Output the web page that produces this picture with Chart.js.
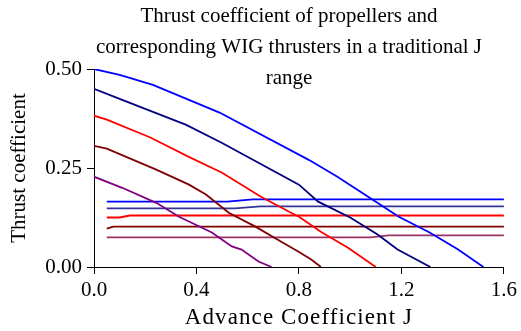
<!DOCTYPE html>
<html>
<head>
<meta charset="utf-8">
<script src="https://cdn.jsdelivr.net/npm/chart.js@4"></script>
<style>
  body { margin: 0; background: #fff; }
  #wrap { width: 521px; height: 331px; position: relative; }
</style>
</head>
<body>
<div id="wrap"><canvas id="thrustChart"></canvas></div>
<script>
// chart text
const titleLines = ['Thrust coefficient of propellers and', 'corresponding WIG thrusters in a traditional J', 'range'];
const xTitle = 'Advance Coefficient J';
const yTitle = 'Thrust coefficient';

// propeller curves (J, KT)
const prop1J = [0, 0.10, 0.23, 0.49, 0.84, 0.95, 1.10, 1.19, 1.31, 1.42, 1.52];
const prop1K = [0.500, 0.485, 0.460, 0.390, 0.270, 0.228, 0.165, 0.127, 0.087, 0.045, 0];
const prop2J = [0, 0.11, 0.36, 0.50, 0.80, 0.875, 1.00, 1.107, 1.185, 1.313];
const prop2K = [0.450, 0.422, 0.359, 0.313, 0.208, 0.165, 0.125, 0.082, 0.044, 0];
const prop3J = [0, 0.05, 0.22, 0.37, 0.50, 0.65, 0.76, 0.80, 0.89, 0.99, 1.10];
const prop3K = [0.382, 0.372, 0.327, 0.278, 0.238, 0.178, 0.140, 0.127, 0.087, 0.049, 0];
const prop4J = [0, 0.05, 0.243, 0.371, 0.437, 0.526, 0.63, 0.731, 0.797, 0.848, 0.886];
const prop4K = [0.306, 0.299, 0.246, 0.208, 0.183, 0.137, 0.102, 0.064, 0.039, 0.019, 0];
const prop5J = [0, 0.11, 0.243, 0.332, 0.46, 0.538, 0.576, 0.642, 0.693];
const prop5K = [0.228, 0.200, 0.162, 0.127, 0.087, 0.052, 0.044, 0.014, 0];

// WIG thruster curves
const wig1J = [0.05, 0.52, 0.62, 1.6];
const wig1K = [0.165, 0.165, 0.171, 0.171];
const wig2J = [0.05, 0.55, 0.65, 1.6];
const wig2K = [0.148, 0.148, 0.153, 0.153];
const wig3J = [0.05, 0.10, 0.14, 1.6];
const wig3K = [0.125, 0.125, 0.130, 0.130];
const wig4J = [0.05, 0.075, 1.6];
const wig4K = [0.097, 0.102, 0.102];
const wig5J = [0.05, 1.08, 1.15, 1.6];
const wig5K = [0.075, 0.075, 0.080, 0.080];

const xTicks = [0, 0.4, 0.8, 1.2, 1.6];
const yTicks = [0, 0.25, 0.5];

const FONT = '"Liberation Serif", "Times New Roman", serif';

function pts(js, ks) {
    return js.map((j, i) => ({ x: j, y: ks[i] }));
}

function series(js, ks, color) {
    return {
        data: pts(js, ks),
        borderColor: color,
        borderWidth: 1.8,
        pointRadius: 0,
        tension: 0,
        fill: false
    };
}

// title over the plot and the x axis caption
const textPlugin = {
    id: 'textLines',
    afterDraw(chart) {
        const ctx = chart.ctx;
        ctx.save();
        ctx.fillStyle = '#000';
        ctx.font = '21px ' + FONT;
        ctx.textAlign = 'center';
        ctx.textBaseline = 'middle';
        const ys = [16, 47, 78];
        titleLines.forEach((t, i) => ctx.fillText(t, 289, ys[i]));

        const area = chart.chartArea;
        ctx.font = '23px ' + FONT;
        if ('letterSpacing' in ctx) ctx.letterSpacing = '1.1px';
        ctx.fillText(xTitle, (area.left + area.right) / 2, 318);
        ctx.restore();
    }
};

const ctx = document.getElementById('thrustChart').getContext('2d');
new Chart(ctx, {
    type: 'line',
    data: {
        datasets: [
            series(prop1J, prop1K, '#0000ff'),
            series(prop2J, prop2K, '#000080'),
            series(prop3J, prop3K, '#ff0000'),
            series(prop4J, prop4K, '#800000'),
            series(prop5J, prop5K, '#800080'),
            series(wig1J, wig1K, '#0000ff'),
            series(wig2J, wig2K, '#333399'),
            series(wig3J, wig3K, '#ff0000'),
            series(wig4J, wig4K, '#800000'),
            series(wig5J, wig5K, '#993366')
        ]
    },
    options: {
        responsive: true,
        maintainAspectRatio: false,
        animation: false,
        layout: { padding: { top: 69, right: 14, left: 0, bottom: 0 } },
        plugins: { legend: { display: false }, tooltip: { enabled: false } },
        scales: {
            x: {
                type: 'linear',
                min: 0, max: 1.6,
                afterBuildTicks: s => { s.ticks = xTicks.map(v => ({ value: v })); },
                afterFit: s => { s.height = 64; },
                border: { color: '#000', width: 1 },
                grid: { drawOnChartArea: false, tickLength: 7, color: '#000' },
                ticks: {
                    color: '#000', padding: 4,
                    font: { family: FONT, size: 21 },
                    callback: v => v.toFixed(1)
                }
            },
            y: {
                min: 0, max: 0.5,
                afterBuildTicks: s => { s.ticks = yTicks.map(v => ({ value: v })); },
                afterFit: s => { s.width = 94; },
                border: { color: '#000', width: 1 },
                grid: { drawOnChartArea: false, tickLength: 7, color: '#000' },
                ticks: {
                    color: '#000', padding: 5,
                    font: { family: FONT, size: 21 },
                    callback: v => v.toFixed(2)
                },
                title: {
                    display: true, text: yTitle, color: '#000',
                    font: { family: FONT, size: 21 },
                    padding: { top: 7, bottom: 0 }
                }
            }
        }
    },
    plugins: [textPlugin]
});
</script>
</body>
</html>
